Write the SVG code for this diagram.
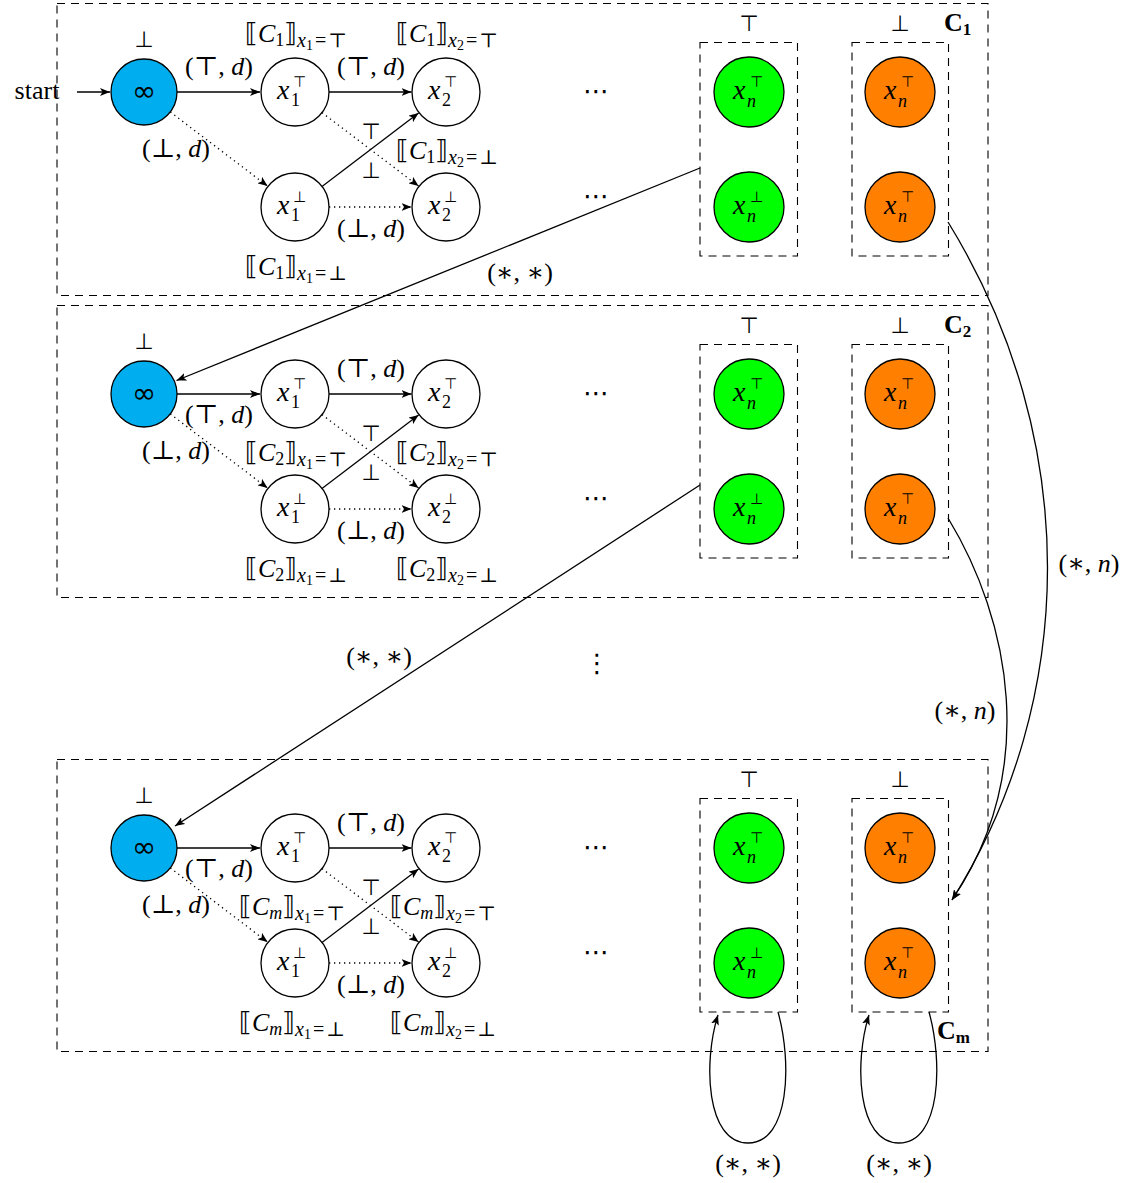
<svg xmlns="http://www.w3.org/2000/svg" width="1131" height="1183" viewBox="0 0 1131 1183">
<defs>
<style>
text{font-family:"Liberation Serif","DejaVu Serif","DejaVu Sans",serif;font-size:26px;fill:#000}
.c{text-anchor:middle}
.i{font-style:italic}
.sym{font-family:"DejaVu Sans",sans-serif;font-size:22px}
.vx{font-style:italic;font-size:28px}
.sp{font-size:15px;font-family:"DejaVu Sans",sans-serif}
.sb{font-size:18px}
.ss{font-size:20px}
.st{font-size:14px}
.b{font-weight:bold}
.inft{font-family:"DejaVu Sans",sans-serif;font-size:29px;text-anchor:middle}
.box{fill:none;stroke:#000;stroke-width:1.1;stroke-dasharray:8 6}
.n{stroke:#000;stroke-width:1.3}
.w{fill:#fff}
.inf{fill:#00AEEF}
.g{fill:#00FF00}
.o{fill:#FF8000}
.e{fill:none;stroke:#000;stroke-width:1.3}
.a{marker-end:url(#arr)}
.d{stroke-dasharray:1.3 3.7}
</style>
<marker id="arr" viewBox="0 0 10 8" markerWidth="10" markerHeight="8" refX="10" refY="4" orient="auto" markerUnits="userSpaceOnUse">
<path d="M0,0 L10,4 L0,8 L2.5,4 Z" fill="#000"/>
</marker>
</defs>
<rect width="1131" height="1183" fill="#fff"/>

<g id="section1">
<rect class="box" x="57" y="3.5" width="931" height="292"/>
<rect class="box" x="700" y="42.5" width="97.5" height="213.5"/>
<rect class="box" x="852" y="42.5" width="96.5" height="213.5"/>
<text class="b" x="944" y="31">C<tspan font-size="17" dy="4">1</tspan></text>
<text class="c sym" x="749" y="31">⊤</text>
<text class="c sym" x="900" y="31">⊥</text>
<text class="c sym" x="144" y="47">⊥</text>
<text class="c" x="37" y="99">start</text>
<g id="s1-inf" transform="translate(144,92)"><circle r="33" class="n inf"/><text class="inft" y="9">∞</text></g>
<g id="s1-x1t" transform="translate(295,92)"><circle r="34" class="n w"/><text><tspan x="-18" y="7" class="vx">x</tspan><tspan x="-2" y="-5" class="sp">⊤</tspan><tspan x="-4" y="14" class="sb">1</tspan></text></g>
<g id="s1-x2t" transform="translate(446,92)"><circle r="34" class="n w"/><text><tspan x="-18" y="7" class="vx">x</tspan><tspan x="-2" y="-5" class="sp">⊤</tspan><tspan x="-4" y="14" class="sb">2</tspan></text></g>
<g id="s1-x1b" transform="translate(295,207)"><circle r="34" class="n w"/><text><tspan x="-18" y="7" class="vx">x</tspan><tspan x="-2" y="-5" class="sp">⊥</tspan><tspan x="-4" y="14" class="sb">1</tspan></text></g>
<g id="s1-x2b" transform="translate(446,207)"><circle r="34" class="n w"/><text><tspan x="-18" y="7" class="vx">x</tspan><tspan x="-2" y="-5" class="sp">⊥</tspan><tspan x="-4" y="14" class="sb">2</tspan></text></g>
<text class="c" x="596" y="100" font-size="30">⋯</text>
<text class="c" x="596" y="205" font-size="30">⋯</text>
<g id="s1-gt" transform="translate(749,92)"><circle r="35" class="n g"/><text><tspan x="-16" y="7" class="vx">x</tspan><tspan x="1" y="-5" class="sp">⊤</tspan><tspan x="-2" y="15" class="sb i">n</tspan></text></g>
<g id="s1-gb" transform="translate(749,207)"><circle r="35" class="n g"/><text><tspan x="-16" y="7" class="vx">x</tspan><tspan x="1" y="-5" class="sp">⊥</tspan><tspan x="-2" y="15" class="sb i">n</tspan></text></g>
<g id="s1-ot" transform="translate(900,92)"><circle r="35" class="n o"/><text><tspan x="-16" y="7" class="vx">x</tspan><tspan x="1" y="-5" class="sp">⊤</tspan><tspan x="-2" y="15" class="sb i">n</tspan></text></g>
<g id="s1-ob" transform="translate(900,207)"><circle r="35" class="n o"/><text><tspan x="-16" y="7" class="vx">x</tspan><tspan x="1" y="-5" class="sp">⊤</tspan><tspan x="-2" y="15" class="sb i">n</tspan></text></g>
</g>

<g id="section2" transform="translate(0,302)">
<rect class="box" x="57" y="3.5" width="931" height="292"/>
<rect class="box" x="700" y="42.5" width="97.5" height="213.5"/>
<rect class="box" x="852" y="42.5" width="96.5" height="213.5"/>
<text class="b" x="944" y="31">C<tspan font-size="17" dy="4">2</tspan></text>
<text class="c sym" x="749" y="31">⊤</text>
<text class="c sym" x="900" y="31">⊥</text>
<text class="c sym" x="144" y="47">⊥</text>
<g id="s2-inf" transform="translate(144,92)"><circle r="33" class="n inf"/><text class="inft" y="9">∞</text></g>
<g id="s2-x1t" transform="translate(295,92)"><circle r="34" class="n w"/><text><tspan x="-18" y="7" class="vx">x</tspan><tspan x="-2" y="-5" class="sp">⊤</tspan><tspan x="-4" y="14" class="sb">1</tspan></text></g>
<g id="s2-x2t" transform="translate(446,92)"><circle r="34" class="n w"/><text><tspan x="-18" y="7" class="vx">x</tspan><tspan x="-2" y="-5" class="sp">⊤</tspan><tspan x="-4" y="14" class="sb">2</tspan></text></g>
<g id="s2-x1b" transform="translate(295,207)"><circle r="34" class="n w"/><text><tspan x="-18" y="7" class="vx">x</tspan><tspan x="-2" y="-5" class="sp">⊥</tspan><tspan x="-4" y="14" class="sb">1</tspan></text></g>
<g id="s2-x2b" transform="translate(446,207)"><circle r="34" class="n w"/><text><tspan x="-18" y="7" class="vx">x</tspan><tspan x="-2" y="-5" class="sp">⊥</tspan><tspan x="-4" y="14" class="sb">2</tspan></text></g>
<text class="c" x="596" y="100" font-size="30">⋯</text>
<text class="c" x="596" y="205" font-size="30">⋯</text>
<g id="s2-gt" transform="translate(749,92)"><circle r="35" class="n g"/><text><tspan x="-16" y="7" class="vx">x</tspan><tspan x="1" y="-5" class="sp">⊤</tspan><tspan x="-2" y="15" class="sb i">n</tspan></text></g>
<g id="s2-gb" transform="translate(749,207)"><circle r="35" class="n g"/><text><tspan x="-16" y="7" class="vx">x</tspan><tspan x="1" y="-5" class="sp">⊥</tspan><tspan x="-2" y="15" class="sb i">n</tspan></text></g>
<g id="s2-ot" transform="translate(900,92)"><circle r="35" class="n o"/><text><tspan x="-16" y="7" class="vx">x</tspan><tspan x="1" y="-5" class="sp">⊤</tspan><tspan x="-2" y="15" class="sb i">n</tspan></text></g>
<g id="s2-ob" transform="translate(900,207)"><circle r="35" class="n o"/><text><tspan x="-16" y="7" class="vx">x</tspan><tspan x="1" y="-5" class="sp">⊤</tspan><tspan x="-2" y="15" class="sb i">n</tspan></text></g>
</g>

<text class="c" x="597" y="672" font-size="30">⋮</text>

<g id="section3" transform="translate(0,756)">
<rect class="box" x="57" y="3.5" width="931" height="292"/>
<rect class="box" x="700" y="42.5" width="97.5" height="213.5"/>
<rect class="box" x="852" y="42.5" width="96.5" height="213.5"/>
<text class="b" x="937" y="283">C<tspan font-size="17" dy="4">m</tspan></text>
<text class="c sym" x="749" y="31">⊤</text>
<text class="c sym" x="900" y="31">⊥</text>
<text class="c sym" x="144" y="47">⊥</text>
<g id="s3-inf" transform="translate(144,92)"><circle r="33" class="n inf"/><text class="inft" y="9">∞</text></g>
<g id="s3-x1t" transform="translate(295,92)"><circle r="34" class="n w"/><text><tspan x="-18" y="7" class="vx">x</tspan><tspan x="-2" y="-5" class="sp">⊤</tspan><tspan x="-4" y="14" class="sb">1</tspan></text></g>
<g id="s3-x2t" transform="translate(446,92)"><circle r="34" class="n w"/><text><tspan x="-18" y="7" class="vx">x</tspan><tspan x="-2" y="-5" class="sp">⊤</tspan><tspan x="-4" y="14" class="sb">2</tspan></text></g>
<g id="s3-x1b" transform="translate(295,207)"><circle r="34" class="n w"/><text><tspan x="-18" y="7" class="vx">x</tspan><tspan x="-2" y="-5" class="sp">⊥</tspan><tspan x="-4" y="14" class="sb">1</tspan></text></g>
<g id="s3-x2b" transform="translate(446,207)"><circle r="34" class="n w"/><text><tspan x="-18" y="7" class="vx">x</tspan><tspan x="-2" y="-5" class="sp">⊥</tspan><tspan x="-4" y="14" class="sb">2</tspan></text></g>
<text class="c" x="596" y="100" font-size="30">⋯</text>
<text class="c" x="596" y="205" font-size="30">⋯</text>
<g id="s3-gt" transform="translate(749,92)"><circle r="35" class="n g"/><text><tspan x="-16" y="7" class="vx">x</tspan><tspan x="1" y="-5" class="sp">⊤</tspan><tspan x="-2" y="15" class="sb i">n</tspan></text></g>
<g id="s3-gb" transform="translate(749,207)"><circle r="35" class="n g"/><text><tspan x="-16" y="7" class="vx">x</tspan><tspan x="1" y="-5" class="sp">⊥</tspan><tspan x="-2" y="15" class="sb i">n</tspan></text></g>
<g id="s3-ot" transform="translate(900,92)"><circle r="35" class="n o"/><text><tspan x="-16" y="7" class="vx">x</tspan><tspan x="1" y="-5" class="sp">⊤</tspan><tspan x="-2" y="15" class="sb i">n</tspan></text></g>
<g id="s3-ob" transform="translate(900,207)"><circle r="35" class="n o"/><text><tspan x="-16" y="7" class="vx">x</tspan><tspan x="1" y="-5" class="sp">⊤</tspan><tspan x="-2" y="15" class="sb i">n</tspan></text></g>
</g>

<g id="connectors">
<path class="e a" d="M77,92 H110"/>
<g id="c-s1">
<path class="e a" d="M177,92 H260"/>
<path class="e a d" d="M170.3,112 L267.6,186.1"/>
<path class="e a" d="M329,92 H411.5"/>
<path class="e a d" d="M322,112.6 L418.6,186.1"/>
<path class="e a" d="M322,186.4 L418.6,112.9"/>
<path class="e a d" d="M329,207 H411.5"/>
</g>
<g id="c-s2" transform="translate(0,302)">
<path class="e a" d="M177,92 H260"/>
<path class="e a d" d="M170.3,112 L267.6,186.1"/>
<path class="e a" d="M329,92 H411.5"/>
<path class="e a d" d="M322,112.6 L418.6,186.1"/>
<path class="e a" d="M322,186.4 L418.6,112.9"/>
<path class="e a d" d="M329,207 H411.5"/>
</g>
<g id="c-s3" transform="translate(0,756)">
<path class="e a" d="M177,92 H260"/>
<path class="e a d" d="M170.3,112 L267.6,186.1"/>
<path class="e a" d="M329,92 H411.5"/>
<path class="e a d" d="M322,112.6 L418.6,186.1"/>
<path class="e a" d="M322,186.4 L418.6,112.9"/>
<path class="e a d" d="M329,207 H411.5"/>
</g>
<path class="e a" d="M700,168 L176.5,380.5"/>
<path class="e a" d="M700,485 L175,826"/>
<path class="e a" d="M948,222 C1082,440 1078,700 952,900"/>
<path class="e a" d="M948,518 C1010,620 1040,770 952,900"/>
<path class="e a" d="M778,1012 C792,1062 790,1143 748,1143 C706,1143 703,1062 718,1015"/>
<path class="e a" d="M929,1012 C943,1062 941,1143 899,1143 C857,1143 854,1062 869,1015"/>
</g>

<g id="labels">
<g id="l-s1">
<text class="c" x="219" y="75">(⊤, <tspan class="i">d</tspan>)</text>
<text class="c" x="371" y="75">(⊤, <tspan class="i">d</tspan>)</text>
<text class="c" x="176" y="157">(⊥, <tspan class="i">d</tspan>)</text>
<text class="c" x="371" y="237">(⊥, <tspan class="i">d</tspan>)</text>
<text class="c sym" x="371" y="139">⊤</text>
<text class="c sym" x="371" y="177.5">⊥</text>
<text x="245" y="42">⟦<tspan class="i">C</tspan><tspan class="sb" dy="4">1</tspan><tspan dy="-4">⟧</tspan><tspan class="ss i" dy="5">x</tspan><tspan class="st" dy="3">1</tspan><tspan class="ss" dy="-3" dx="2">=</tspan><tspan class="ss" dx="2">⊤</tspan></text>
<text x="396" y="42">⟦<tspan class="i">C</tspan><tspan class="sb" dy="4">1</tspan><tspan dy="-4">⟧</tspan><tspan class="ss i" dy="5">x</tspan><tspan class="st" dy="3">2</tspan><tspan class="ss" dy="-3" dx="2">=</tspan><tspan class="ss" dx="2">⊤</tspan></text>
<text x="396" y="159">⟦<tspan class="i">C</tspan><tspan class="sb" dy="4">1</tspan><tspan dy="-4">⟧</tspan><tspan class="ss i" dy="5">x</tspan><tspan class="st" dy="3">2</tspan><tspan class="ss" dy="-3" dx="2">=</tspan><tspan class="ss" dx="2">⊥</tspan></text>
<text x="245" y="275">⟦<tspan class="i">C</tspan><tspan class="sb" dy="4">1</tspan><tspan dy="-4">⟧</tspan><tspan class="ss i" dy="5">x</tspan><tspan class="st" dy="3">1</tspan><tspan class="ss" dy="-3" dx="2">=</tspan><tspan class="ss" dx="2">⊥</tspan></text>
</g>
<g id="l-s2" transform="translate(0,302)">
<text class="c" x="219" y="121">(⊤, <tspan class="i">d</tspan>)</text>
<text class="c" x="371" y="75">(⊤, <tspan class="i">d</tspan>)</text>
<text class="c" x="176" y="157">(⊥, <tspan class="i">d</tspan>)</text>
<text class="c" x="371" y="237">(⊥, <tspan class="i">d</tspan>)</text>
<text class="c sym" x="371" y="139">⊤</text>
<text class="c sym" x="371" y="177.5">⊥</text>
<text x="245" y="159">⟦<tspan class="i">C</tspan><tspan class="sb" dy="4">2</tspan><tspan dy="-4">⟧</tspan><tspan class="ss i" dy="5">x</tspan><tspan class="st" dy="3">1</tspan><tspan class="ss" dy="-3" dx="2">=</tspan><tspan class="ss" dx="2">⊤</tspan></text>
<text x="396" y="159">⟦<tspan class="i">C</tspan><tspan class="sb" dy="4">2</tspan><tspan dy="-4">⟧</tspan><tspan class="ss i" dy="5">x</tspan><tspan class="st" dy="3">2</tspan><tspan class="ss" dy="-3" dx="2">=</tspan><tspan class="ss" dx="2">⊤</tspan></text>
<text x="245" y="275">⟦<tspan class="i">C</tspan><tspan class="sb" dy="4">2</tspan><tspan dy="-4">⟧</tspan><tspan class="ss i" dy="5">x</tspan><tspan class="st" dy="3">1</tspan><tspan class="ss" dy="-3" dx="2">=</tspan><tspan class="ss" dx="2">⊥</tspan></text>
<text x="396" y="275">⟦<tspan class="i">C</tspan><tspan class="sb" dy="4">2</tspan><tspan dy="-4">⟧</tspan><tspan class="ss i" dy="5">x</tspan><tspan class="st" dy="3">2</tspan><tspan class="ss" dy="-3" dx="2">=</tspan><tspan class="ss" dx="2">⊥</tspan></text>
</g>
<g id="l-s3" transform="translate(0,756)">
<text class="c" x="219" y="121">(⊤, <tspan class="i">d</tspan>)</text>
<text class="c" x="371" y="75">(⊤, <tspan class="i">d</tspan>)</text>
<text class="c" x="176" y="157">(⊥, <tspan class="i">d</tspan>)</text>
<text class="c" x="371" y="237">(⊥, <tspan class="i">d</tspan>)</text>
<text class="c sym" x="371" y="139">⊤</text>
<text class="c sym" x="371" y="177.5">⊥</text>
<text x="239" y="159">⟦<tspan class="i">C</tspan><tspan class="sb i" dy="4">m</tspan><tspan dy="-4">⟧</tspan><tspan class="ss i" dy="5">x</tspan><tspan class="st" dy="3">1</tspan><tspan class="ss" dy="-3" dx="2">=</tspan><tspan class="ss" dx="2">⊤</tspan></text>
<text x="390" y="159">⟦<tspan class="i">C</tspan><tspan class="sb i" dy="4">m</tspan><tspan dy="-4">⟧</tspan><tspan class="ss i" dy="5">x</tspan><tspan class="st" dy="3">2</tspan><tspan class="ss" dy="-3" dx="2">=</tspan><tspan class="ss" dx="2">⊤</tspan></text>
<text x="239" y="275">⟦<tspan class="i">C</tspan><tspan class="sb i" dy="4">m</tspan><tspan dy="-4">⟧</tspan><tspan class="ss i" dy="5">x</tspan><tspan class="st" dy="3">1</tspan><tspan class="ss" dy="-3" dx="2">=</tspan><tspan class="ss" dx="2">⊥</tspan></text>
<text x="390" y="275">⟦<tspan class="i">C</tspan><tspan class="sb i" dy="4">m</tspan><tspan dy="-4">⟧</tspan><tspan class="ss i" dy="5">x</tspan><tspan class="st" dy="3">2</tspan><tspan class="ss" dy="-3" dx="2">=</tspan><tspan class="ss" dx="2">⊥</tspan></text>
</g>
<text class="c" x="520" y="281">(∗, ∗)</text>
<text class="c" x="379" y="665">(∗, ∗)</text>
<text class="c" x="1089" y="572">(∗, <tspan class="i">n</tspan>)</text>
<text class="c" x="965" y="719">(∗, <tspan class="i">n</tspan>)</text>
<text class="c" x="748" y="1172">(∗, ∗)</text>
<text class="c" x="899" y="1172">(∗, ∗)</text>
</g>
</svg>
